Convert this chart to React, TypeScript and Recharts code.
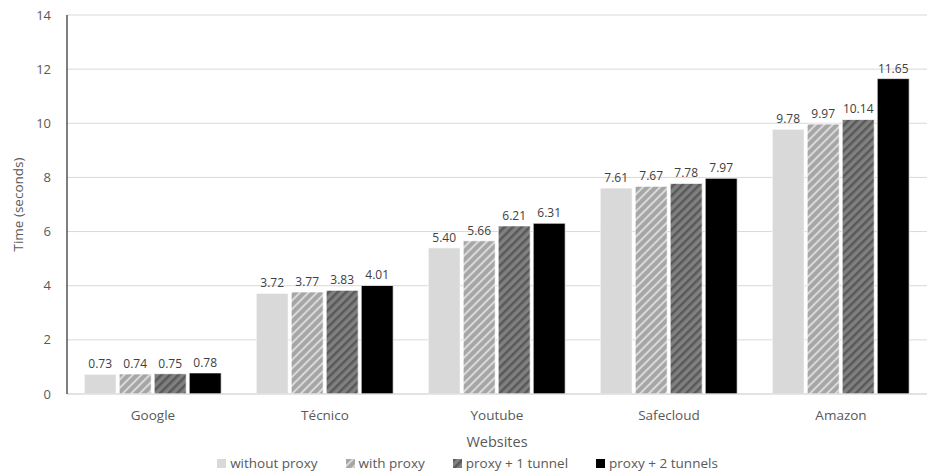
import React from "react";
import { BarChart, Bar, XAxis, YAxis, CartesianGrid, LabelList, Legend } from "recharts";

const categories = ["Google", "Técnico", "Youtube", "Safecloud", "Amazon"];
const withoutProxy = [0.73, 3.72, 5.4, 7.61, 9.78];
const withProxy = [0.74, 3.77, 5.66, 7.67, 9.97];
const proxy1Tunnel = [0.75, 3.83, 6.21, 7.78, 10.14];
const proxy2Tunnels = [0.78, 4.01, 6.31, 7.97, 11.65];
const yTicks = [0, 2, 4, 6, 8, 10, 12, 14];

const seriesDefs = [
  { key: "a", name: "without proxy", fill: "#d9d9d9" },
  { key: "b", name: "with proxy", fill: "url(#hatchLight)" },
  { key: "c", name: "proxy + 1 tunnel", fill: "url(#hatchDark)" },
  { key: "d", name: "proxy + 2 tunnels", fill: "#000000" },
];

const data = categories.map((c, i) => ({
  name: c,
  a: withoutProxy[i],
  b: withProxy[i],
  c: proxy1Tunnel[i],
  d: proxy2Tunnels[i],
}));

const FONT = "'Open Sans', Lato, sans-serif";

const LegendContent = () => (
  <div style={{ display: "flex", justifyContent: "center", fontFamily: FONT, fontSize: 13.5, color: "#595959", lineHeight: "16px", paddingTop: 5, paddingRight: 22 }}>
    {seriesDefs.map((s) => (
      <div key={s.key} style={{ display: "flex", alignItems: "center", margin: "0 14px" }}>
        <svg width={9} height={9} style={{ marginRight: 4 }}>
          <rect x={0} y={0} width={9} height={9} fill={s.fill} />
        </svg>
        <span>{s.name}</span>
      </div>
    ))}
  </div>
);

export default function App() {
  return (
    <div style={{ position: "absolute", left: 0, top: 0, width: 927, height: 472, background: "#fff" }}>
      <svg width={0} height={0} style={{ position: "absolute" }}>
        <defs>
          <pattern id="hatchLight" width={6} height={6} patternUnits="userSpaceOnUse" patternTransform="rotate(45)">
            <rect x={0} y={0} width={6} height={6} fill="#d9d9d9" />
            <rect x={0} y={0} width={4} height={6} fill="#a6a6a6" />
          </pattern>
          <pattern id="hatchDark" width={6} height={6} patternUnits="userSpaceOnUse" patternTransform="rotate(45)">
            <rect x={0} y={0} width={6} height={6} fill="#808080" />
            <rect x={0} y={0} width={2.5} height={6} fill="#595959" />
          </pattern>
        </defs>
      </svg>
      <BarChart
        width={927}
        height={472}
        data={data}
        margin={{ top: 15, right: 0, left: 30, bottom: 0 }}
        barCategoryGap="10%"
        barGap={3}
      >
        <CartesianGrid vertical={false} stroke="#d9d9d9" />
        <XAxis
          dataKey="name"
          axisLine={{ stroke: "#d9d9d9" }}
          tickLine={false}
          tick={{ fill: "#595959", fontSize: 13.5, fontFamily: FONT }}
          height={56}
          tickMargin={10}
          label={{ value: "Websites", position: "insideBottom", offset: 3, fill: "#595959", fontSize: 14.5, fontFamily: FONT }}
        />
        <YAxis
          domain={[0, 14]}
          ticks={yTicks}
          axisLine={{ stroke: "#000" }}
          tickLine={false}
          width={37}
          tick={{ fill: "#595959", fontSize: 13, fontFamily: FONT }}
          tickMargin={10}
          label={{ value: "Time (seconds)", angle: -90, position: "insideLeft", offset: -12, fill: "#595959", fontSize: 13.5, fontFamily: FONT, style: { textAnchor: "middle" } }}
        />
        <Legend verticalAlign="bottom" height={22} content={<LegendContent />} />
        {seriesDefs.map((s) => (
          <Bar key={s.key} dataKey={s.key} name={s.name} fill={s.fill} stroke="#ffffff" strokeWidth={0.75} isAnimationActive={false}>
            <LabelList
              dataKey={s.key}
              position="top"
              offset={6}
              formatter={(v: any) => Number(v).toFixed(2)}
              style={{ fill: "#404040", fontSize: 12, fontFamily: FONT }}
            />
          </Bar>
        ))}
      </BarChart>
    </div>
  );
}
